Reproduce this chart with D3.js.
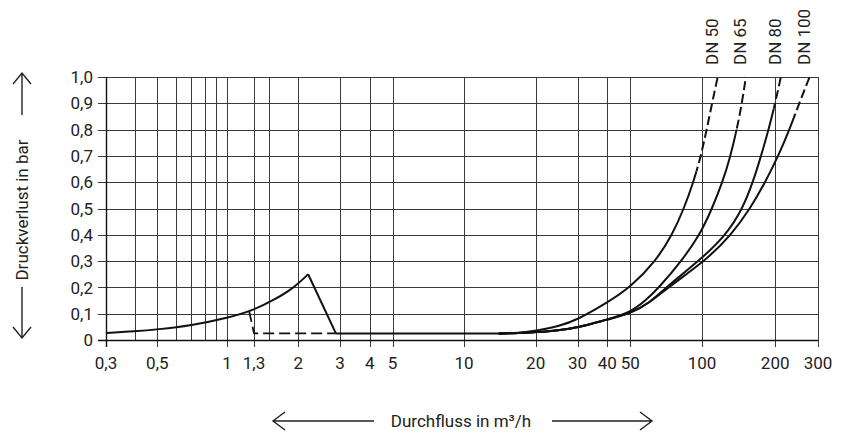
<!DOCTYPE html>
<html>
<head>
<meta charset="utf-8">
<script src="https://cdn.jsdelivr.net/npm/d3@7"></script>
<style>
  body { margin: 0; background: #fff; }
  text { font-family: Roboto, "Noto Sans", sans-serif; fill: #222; }
</style>
</head>
<body>
<svg id="chart"></svg>
<script>
let w = 852;
let h = 436;

// tick labels and grid values
let xTickValues = [0.3, 0.5, 1, 1.3, 2, 3, 4, 5, 10, 20, 30, 40, 50, 100, 200, 300];
let xGridValues = [0.3, 0.4, 0.5, 0.6, 0.7, 0.8, 0.9, 1, 1.3, 1.5, 2, 3, 4, 5, 10, 20, 30, 40, 50, 100, 200, 300];
let yTickValues = [0, 0.1, 0.2, 0.3, 0.4, 0.5, 0.6, 0.7, 0.8, 0.9, 1.0];

// small meter curve (flow m3/h, loss bar)
let smallCurve = [[0.3, 0.027], [0.4, 0.033], [0.5, 0.04], [0.7, 0.055], [1, 0.083],
  [1.3, 0.114], [1.6, 0.155], [1.9, 0.196], [2.2, 0.25]];
let smallDrop = [[2.2, 0.25], [2.88, 0.025]];
let bypassDashed = [[1.24, 0.11], [1.3, 0.025], [2.88, 0.025]];
let baseLine = [[2.88, 0.025], [15, 0.025]];

// main meter curves
let dnNames = ["DN 50", "DN 65", "DN 80", "DN 100"];
let dn50 = [[14, 0.025], [17, 0.027], [20, 0.034], [25, 0.052], [30, 0.077], [40, 0.142], [50, 0.2],
  [64, 0.3], [75, 0.4], [84, 0.5], [92, 0.6], [99, 0.7], [104.5, 0.8], [110, 0.9], [116, 1.0]];
let dn65 = [[14, 0.025], [17, 0.026], [20, 0.03], [25, 0.037], [30, 0.047], [40, 0.078], [50, 0.105],
  [58, 0.15], [66, 0.2], [82, 0.3], [98, 0.4], [110, 0.5], [121.5, 0.6], [131, 0.7], [139, 0.8], [146, 0.9], [151.5, 1.0]];
let dn80 = [[14, 0.025], [17, 0.026], [20, 0.03], [25, 0.037], [30, 0.047], [40, 0.078], [50, 0.1],
  [60, 0.14], [70.5, 0.2], [97, 0.3], [126, 0.4], [147, 0.5], [162, 0.6], [175, 0.7], [188, 0.8], [200, 0.9], [211, 1.0]];
let dn100 = [[14, 0.025], [17, 0.026], [20, 0.03], [25, 0.037], [30, 0.047], [40, 0.078], [50, 0.1],
  [60, 0.14], [72, 0.2], [103, 0.3], [132, 0.4], [158, 0.5], [182, 0.6], [206, 0.7], [229, 0.8], [251, 0.9], [277, 1.0]];
let dnSeries = [dn50, dn65, dn80, dn100];
let dashedAbove = [0.64, 0.8, 0.88, 0.86];

let fmt = (d) => d === 0 ? "0" : String(d).replace(".", ",");
let fmtY = (d) => d === 0 ? "0" : d3.format(".1f")(d).replace(".", ",");

let svg = d3.select("#chart").attr("width", w).attr("height", h);

// log scale, piecewise per decade to follow the printed grid
let xScale = d3.scaleLog()
  .domain([0.3, 1, 10, 100, 300])
  .range([106, 227, 464, 702, 818]);
let yScale = d3.scaleLinear().domain([0, 1]).range([340, 77]);

let x0 = xScale(0.3), x1 = xScale(300);
let y0 = yScale(0), y1 = yScale(1);

// grid
let grid = svg.append("g").attr("stroke", "#3a3a3a").attr("stroke-width", 1).attr("shape-rendering", "crispEdges");
grid.selectAll(".v").data(xGridValues).enter().append("line")
  .attr("x1", (d) => Math.round(xScale(d)) + 0.5).attr("x2", (d) => Math.round(xScale(d)) + 0.5)
  .attr("y1", y1).attr("y2", (d) => xTickValues.includes(d) ? y0 + 7 : y0);
grid.selectAll(".h").data(yTickValues).enter().append("line")
  .attr("y1", (d) => Math.round(yScale(d)) + 0.5).attr("y2", (d) => Math.round(yScale(d)) + 0.5)
  .attr("x1", x0 - 8).attr("x2", x1);

// axes lines a bit darker
svg.append("line").attr("x1", x0 - 8).attr("x2", x1).attr("y1", Math.round(y0) + 0.5).attr("y2", Math.round(y0) + 0.5)
  .attr("stroke", "#111").attr("stroke-width", 1.4);
svg.append("line").attr("x1", Math.round(x0) + 0.5).attr("x2", Math.round(x0) + 0.5).attr("y1", y1).attr("y2", y0 + 7)
  .attr("stroke", "#111").attr("stroke-width", 1.4);

// tick labels
svg.append("g").selectAll("text").data(xTickValues).enter().append("text")
  .attr("x", (d) => xScale(d)).attr("y", y0 + 29)
  .attr("text-anchor", "middle").attr("font-size", 17)
  .text(fmt);
svg.append("g").selectAll("text").data(yTickValues).enter().append("text")
  .attr("x", x0 - 13).attr("y", (d) => yScale(d)).attr("dy", "0.36em")
  .attr("text-anchor", "end").attr("font-size", 17)
  .text(fmtY);

// curves
let line = d3.line()
  .x((d) => xScale(d[0]))
  .y((d) => yScale(d[1]))
  .curve(d3.curveBasis);
let straight = d3.line().x((d) => xScale(d[0])).y((d) => yScale(d[1]));

let curves = svg.append("g").attr("fill", "none").attr("stroke", "#111").attr("stroke-width", 2)
  .attr("stroke-linejoin", "round");

curves.append("path").attr("d", line(smallCurve));
curves.append("path").attr("d", straight(smallDrop));
curves.append("path").attr("d", straight(baseLine));
curves.append("path").attr("d", straight(bypassDashed)).attr("stroke-dasharray", "11,5").attr("stroke-width", 1.8);

let defs = svg.append("defs");
dnSeries.forEach((s, i) => {
  let yCut = yScale(dashedAbove[i]);
  defs.append("clipPath").attr("id", "solid" + i).append("rect")
    .attr("x", 0).attr("y", yCut).attr("width", w).attr("height", h - yCut);
  defs.append("clipPath").attr("id", "dash" + i).append("rect")
    .attr("x", 0).attr("y", 0).attr("width", w).attr("height", yCut);
  curves.append("path").attr("d", line(s)).attr("clip-path", `url(#solid${i})`);
  curves.append("path").attr("d", line(s)).attr("clip-path", `url(#dash${i})`)
    .attr("stroke-dasharray", "9,4");
});

// DN labels above the curve ends
svg.append("g").selectAll("text").data(dnSeries).enter().append("text")
  .attr("transform", (d) => `translate(${xScale(d[d.length - 1][0]) - 6},${y1 - 12}) rotate(-90)`)
  .attr("dy", "0.36em").attr("font-size", 17)
  .text((d, i) => dnNames[i]);

// axis titles with arrows
let arrows = svg.append("g").attr("fill", "none").attr("stroke", "#222").attr("stroke-width", 1.4);
let ax = 22;
let yMid = 210;
svg.append("text").attr("transform", `translate(${ax},${yMid}) rotate(-90)`)
  .attr("dy", "0.36em").attr("text-anchor", "middle").attr("font-size", 17)
  .text("Druckverlust in bar");
arrows.append("path").attr("d", `M${ax},115 L${ax},${y1 - 4} M${ax - 9},${y1 + 7} L${ax},${y1 - 4} L${ax + 9},${y1 + 7}`);
arrows.append("path").attr("d", `M${ax},287 L${ax},${y0 - 2} M${ax - 9},${y0 - 13} L${ax},${y0 - 2} L${ax + 9},${y0 - 13}`);

let ty = 421;
svg.append("text").attr("x", 461).attr("y", ty).attr("dy", "0.36em")
  .attr("text-anchor", "middle").attr("font-size", 17)
  .text("Durchfluss in m³/h");
arrows.append("path").attr("d", `M374,${ty} L273,${ty} M285,${ty - 9} L273,${ty} L285,${ty + 9}`);
arrows.append("path").attr("d", `M552,${ty} L652,${ty} M640,${ty - 9} L652,${ty} L640,${ty + 9}`);
</script>
</body>
</html>
